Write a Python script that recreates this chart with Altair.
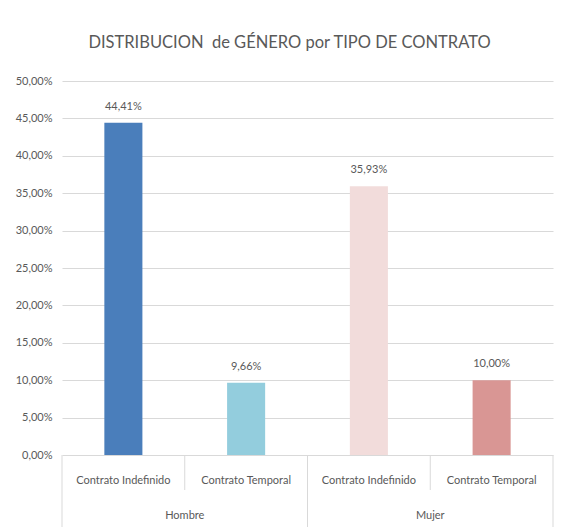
import altair as alt
import pandas as pd

# ---- data ----
groups = ["Hombre", "Hombre", "Mujer", "Mujer"]
contracts = ["Contrato Indefinido", "Contrato Temporal", "Contrato Indefinido", "Contrato Temporal"]
values = [44.41, 9.66, 35.93, 10.00]
bar_colors = ["#4a7ebb", "#93cddd", "#f2dcdb", "#d99694"]
group_names = ["Hombre", "Mujer"]
y_ticks = [0, 5, 10, 15, 20, 25, 30, 35, 40, 45, 50]
title_text = "DISTRIBUCION\u00a0 de GÉNERO por TIPO DE CONTRATO"

W, H = 491, 374
FONT = "Lato, Open Sans, sans-serif"
GREY = "#595959"
LINE = "#d9d9d9"
FS = 11

n = len(values)
ids = [f"{g}|{c}" for g, c in zip(groups, contracts)]
df = pd.DataFrame({"id": ids, "grp": groups, "contract": contracts, "val": values})

sub_df = pd.DataFrame({"pos": [i + 0.5 for i in range(n)], "label": contracts})
grp_pos = []
for g in group_names:
    idx = [i for i, gg in enumerate(groups) if gg == g]
    grp_pos.append((min(idx) + max(idx) + 1) / 2)
grp_df = pd.DataFrame({"pos": grp_pos, "label": group_names})

long_pos = sorted({0, n} | {i for i in range(1, n) if groups[i] != groups[i - 1]})
short_pos = [i for i in range(1, n) if i not in long_pos]
long_df = pd.DataFrame({"pos": long_pos})
short_df = pd.DataFrame({"pos": short_pos})

xq = alt.X("pos:Q", scale=alt.Scale(domain=[0, n]), axis=None)
xband = alt.X("id:N", sort=ids, axis=None,
              scale=alt.Scale(paddingInner=0.69, paddingOuter=0.345))

yaxis = alt.Axis(title=None, values=y_ticks, grid=True, gridColor=LINE,
                 domain=False, ticks=False, labelPadding=10, labelOverlap=False,
                 labelFont=FONT, labelFontSize=FS, labelColor=GREY,
                 labelExpr="replace(format(datum.value, '.2f'), '.', ',') + '%'")
yenc = alt.Y("val:Q", scale=alt.Scale(domain=[0, 50], nice=False), axis=yaxis)

base = alt.Chart(df)

bars = base.mark_bar().encode(
    x=xband,
    y=yenc,
    color=alt.Color("id:N", scale=alt.Scale(domain=ids, range=bar_colors), legend=None),
)

labels = base.transform_calculate(
    txt="replace(format(datum.val, '.2f'), '.', ',') + '%'"
).mark_text(font=FONT, fontSize=FS, color=GREY, baseline="alphabetic", dy=-13).encode(
    x=xband,
    y=yenc,
    text="txt:N",
)

long_rules = alt.Chart(long_df).mark_rule(color=LINE, strokeWidth=1).encode(
    x=xq, y=alt.value(H), y2=alt.value(H + 72)
)
short_rules = alt.Chart(short_df).mark_rule(color=LINE, strokeWidth=1).encode(
    x=xq, y=alt.value(H), y2=alt.value(H + 35)
)
sub_text = alt.Chart(sub_df).mark_text(font=FONT, fontSize=FS, color=GREY, baseline="alphabetic").encode(
    x=xq, y=alt.value(H + 29), text="label:N"
)
grp_text = alt.Chart(grp_df).mark_text(font=FONT, fontSize=FS, color=GREY, baseline="alphabetic").encode(
    x=xq, y=alt.value(H + 64), text="label:N"
)

chart = alt.layer(bars, labels, long_rules, short_rules, sub_text, grp_text).resolve_scale(
    x="independent"
).properties(
    width=W, height=H,
    title=alt.TitleParams(title_text, font=FONT, fontSize=16.5, fontWeight="normal",
                          color=GREY, anchor="middle", frame="group", dx=-18, offset=24),
    padding={"left": 54, "top": 73, "right": 1, "bottom": 74},
    autosize=alt.AutoSizeParams(type="none"),
).configure(background="white", view=alt.ViewConfig(stroke=None))

chart.save("out.html", embed_options={"renderer": "svg", "actions": False})
